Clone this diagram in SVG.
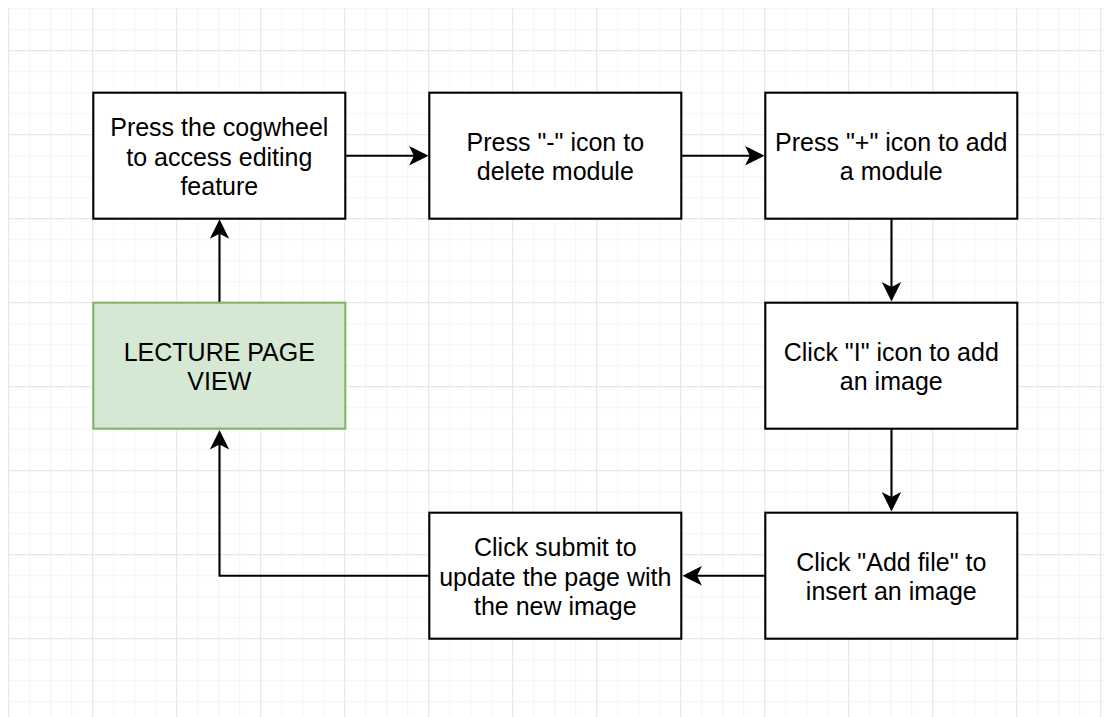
<svg xmlns="http://www.w3.org/2000/svg" width="1106" height="717" viewBox="0 0 1106 717">
<style>
.node rect{stroke-width:2.1}
.box{fill:#ffffff;stroke:#000000}
.green{fill:#d5e8d4;stroke:#82b366}
.lbl{font-family:"Liberation Sans",Arial,sans-serif;font-size:25px;fill:#000000;text-anchor:middle}
.edge{fill:none;stroke:#000000;stroke-width:2.1;marker-end:url(#arr)}
</style>
<defs>
<pattern id="minor" patternUnits="userSpaceOnUse" x="8.2" y="8.2" width="21" height="21">
<path d="M0 0.5 H21 M0.5 0 V21" stroke="#f5f5f5" stroke-width="1" fill="none"/>
</pattern>
<pattern id="major" patternUnits="userSpaceOnUse" x="8.2" y="50.2" width="84" height="84">
<path d="M0 0.5 H84 M0.5 0 V84" stroke="#e6e6e6" stroke-width="1" fill="none"/>
</pattern>
<marker id="arr" markerUnits="userSpaceOnUse" orient="auto" markerWidth="30" markerHeight="30" viewBox="-25 -15 30 30" refX="-3" refY="0" overflow="visible">
<path d="M-2.35 0 L-17.05 -7.35 L-13.375 0 L-17.05 7.35 Z" fill="#000000" stroke="#000000" stroke-width="2.1"/>
</marker>
</defs>
<rect width="1106" height="717" fill="#ffffff"/>
<g id="grid">
<rect x="8" y="8" width="1096" height="709" fill="url(#minor)"/>
<rect x="8" y="8" width="1096" height="709" fill="url(#major)"/>
</g>
<g id="connectors">
<path class="edge" d="M346 155.7 H425.5"/>
<path class="edge" d="M682 155.7 H761.5"/>
<path class="edge" d="M891.5 218.5 V298.5"/>
<path class="edge" d="M891.5 428.5 V508.5"/>
<path class="edge" d="M765 575.7 H685.5"/>
<path class="edge" d="M429 575.7 H219.5 V433"/>
<path class="edge" d="M219.5 302.7 V222.3"/>
</g>
<g id="n1" class="node">
<rect class="box" x="93.3" y="92.7" width="252" height="126"/>
<text class="lbl"><tspan x="219.3" y="136.3">Press the cogwheel</tspan><tspan x="219.3" y="165.5">to access editing</tspan><tspan x="219.3" y="194.7">feature</tspan></text>
</g>
<g id="n2" class="node">
<rect class="box" x="429.3" y="92.7" width="252" height="126"/>
<text class="lbl"><tspan x="555.3" y="151.2">Press "-" icon to</tspan><tspan x="555.3" y="180.4">delete module</tspan></text>
</g>
<g id="n3" class="node">
<rect class="box" x="765.3" y="92.7" width="252" height="126"/>
<text class="lbl"><tspan x="891.3" y="151.2">Press "+" icon to add</tspan><tspan x="891.3" y="180.4">a module</tspan></text>
</g>
<g id="n4" class="node">
<rect class="box" x="765.3" y="302.7" width="252" height="126"/>
<text class="lbl"><tspan x="891.3" y="361.2">Click "I" icon to add</tspan><tspan x="891.3" y="390.4">an image</tspan></text>
</g>
<g id="n5" class="node">
<rect class="box" x="765.3" y="512.7" width="252" height="126"/>
<text class="lbl"><tspan x="891.3" y="571.2">Click "Add file" to</tspan><tspan x="891.3" y="600.4">insert an image</tspan></text>
</g>
<g id="n6" class="node">
<rect class="box" x="429.3" y="512.7" width="252" height="126"/>
<text class="lbl"><tspan x="555.3" y="556.3">Click submit to</tspan><tspan x="555.3" y="585.5">update the page with</tspan><tspan x="555.3" y="614.7">the new image</tspan></text>
</g>
<g id="lecture" class="node">
<rect class="green" x="93.3" y="302.7" width="252" height="126"/>
<text class="lbl"><tspan x="219.3" y="361.2">LECTURE PAGE</tspan><tspan x="219.3" y="390.4">VIEW</tspan></text>
</g>
</svg>
